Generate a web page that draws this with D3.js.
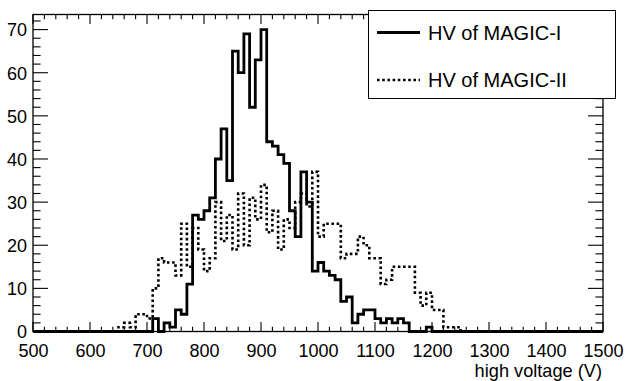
<!DOCTYPE html>
<html>
<head>
<meta charset="utf-8">
<script src="https://cdn.jsdelivr.net/npm/d3@7"></script>
<style>
  html, body { margin: 0; padding: 0; background: #fff; }
  svg { display: block; }
  text { font-family: "Liberation Sans", Arial, Helvetica, sans-serif; fill: #000; }
</style>
</head>
<body>
<svg id="chart" width="625" height="381"></svg>
<script>
// ---- data ----
const binLowEdges = [
  500,510,520,530,540,550,560,570,580,590,600,610,620,630,640,650,660,670,680,690,
  700,710,720,730,740,750,760,770,780,790,800,810,820,830,840,850,860,870,880,890,
  900,910,920,930,940,950,960,970,980,990,1000,1010,1020,1030,1040,1050,1060,1070,1080,1090,
  1100,1110,1120,1130,1140,1150,1160,1170,1180,1190,1200,1210,1220,1230,1240,1250,1260,1270,1280,1290,
  1300,1310,1320,1330,1340,1350,1360,1370,1380,1390,1400,1410,1420,1430,1440,1450,1460,1470,1480,1490
];
const binWidth = 10;
const hvMagic1 = [
  0,0,0,0,0,0,0,0,0,0, 0,0,0,0,0,0,0,0,0,0,
  0,3,0,2,1,5,4,11,27,26, 28,31,40,47,35,65,60,69,52,63,
  70,44,43,41,39,28,22,37,30,14, 16,14,13,12,7,8,2,4,5,5,
  3,2,3,2,3,2,0,0,0,1, 0,0,0,0,0,0,0,0,0,0,
  0,0,0,0,0,0,0,0,0,0, 0,0,0,0,0,0,0,0,0,0
];
const hvMagic2 = [
  0,0,0,0,0,0,0,0,0,0, 0,0,0,0,0,1,2,1,4,4,
  3,10,17,16,16,13,25,15,24,19, 14,17,30,21,27,19,32,20,31,26,
  34,23,28,19,26,24,30,32,29,37, 22,25,25,25,17,18,18,22,20,17,
  17,11,12,15,15,15,15,9,6,9, 5,5,1,1,1,0,0,0,0,0,
  0,0,0,0,0,0,0,0,0,0, 0,0,0,0,0,0,0,0,0,0
];
const xTicks = [500,600,700,800,900,1000,1100,1200,1300,1400,1500];
const yTicks = [0,10,20,30,40,50,60,70];
const xTitle = "high voltage (V)";
const legendLabels = ["HV of MAGIC-I", "HV of MAGIC-II"];

// ---- layout ----
const L = 33, R = 603, T = 14.5, B = 331.5;
const svg = d3.select("#chart");
const x = d3.scaleLinear().domain([500, 1500]).range([L, R]);
const y = d3.scaleLinear().domain([0, 73.5]).range([B, T]);

function histPath(vals) {
  let p = `M${x(binLowEdges[0])},${y(0)}`;
  vals.forEach((v, i) => {
    p += `V${y(v)}H${x(binLowEdges[i] + binWidth)}`;
  });
  p += `V${y(0)}`;
  return p;
}

// histograms
svg.append("path").attr("d", histPath(hvMagic2))
  .attr("fill", "none").attr("stroke", "#000").attr("stroke-width", 2.6)
  .attr("stroke-dasharray", "2.6,2.6");
svg.append("path").attr("d", histPath(hvMagic1))
  .attr("fill", "none").attr("stroke", "#000").attr("stroke-width", 2.8);

// frame
svg.append("rect").attr("x", L).attr("y", T).attr("width", R - L).attr("height", B - T)
  .attr("fill", "none").attr("stroke", "#000").attr("stroke-width", 1.3);

// axes (ROOT style, ticks inward)
const xMinor = d3.range(500, 1501, 20);
const yMinor = d3.range(0, 73.5, 2);
const tk = svg.append("g").attr("stroke", "#000").attr("stroke-width", 1.1);
xMinor.forEach(v => {
  const major = xTicks.includes(v);
  const len = major ? 9.5 : 4.8;
  tk.append("line").attr("x1", x(v)).attr("x2", x(v)).attr("y1", B).attr("y2", B - len);
  tk.append("line").attr("x1", x(v)).attr("x2", x(v)).attr("y1", T).attr("y2", T + len);
});
yMinor.forEach(v => {
  const major = yTicks.includes(v);
  const len = major ? 15 : 7.6;
  tk.append("line").attr("y1", y(v)).attr("y2", y(v)).attr("x1", L).attr("x2", L + len);
  tk.append("line").attr("y1", y(v)).attr("y2", y(v)).attr("x1", R).attr("x2", R - len);
});

// labels via d3 axes (no ticks drawn, just text)
const xAxis = d3.axisBottom(x).tickValues(xTicks).tickSize(0).tickPadding(0).tickFormat(d3.format("d"));
const gx = svg.append("g").attr("transform", `translate(0,${B})`).call(xAxis);
gx.select(".domain").remove();
gx.selectAll("text").attr("font-size", 18).attr("dy", null).attr("y", 25)
  .attr("font-family", '"Liberation Sans", Arial, sans-serif').attr("fill", "#000");

const yAxis = d3.axisLeft(y).tickValues(yTicks).tickSize(0).tickPadding(0).tickFormat(d3.format("d"));
const gy = svg.append("g").attr("transform", `translate(27,0)`).call(yAxis);
gy.select(".domain").remove();
gy.selectAll("text").attr("font-size", 18).attr("dy", "0.35em").attr("x", 0)
  .attr("font-family", '"Liberation Sans", Arial, sans-serif').attr("fill", "#000");

svg.append("text").attr("x", 602).attr("y", 377).attr("text-anchor", "end")
  .attr("font-size", 18.2).text(xTitle);

// legend
const lg = svg.append("g");
lg.append("rect").attr("x", 368.5).attr("y", 10.5).attr("width", 247).attr("height", 88)
  .attr("fill", "#fff").attr("stroke", "#000").attr("stroke-width", 1);
const legY = [32.5, 80];
lg.append("line").attr("x1", 377).attr("x2", 420).attr("y1", legY[0]).attr("y2", legY[0])
  .attr("stroke", "#000").attr("stroke-width", 2.8);
lg.append("line").attr("x1", 377).attr("x2", 420).attr("y1", legY[1]).attr("y2", legY[1])
  .attr("stroke", "#000").attr("stroke-width", 2.6).attr("stroke-dasharray", "2.6,2.6");
legendLabels.forEach((t, i) => {
  lg.append("text").attr("x", 428).attr("y", legY[i]).attr("dy", "0.36em")
    .attr("font-size", 20).text(t);
});
</script>
</body>
</html>
